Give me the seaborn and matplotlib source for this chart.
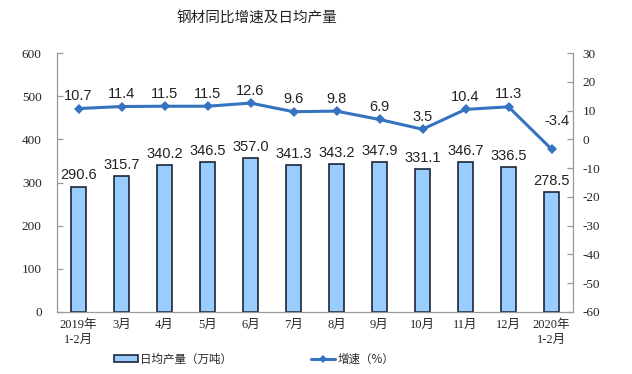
import matplotlib
matplotlib.use("Agg")
import matplotlib.pyplot as plt
import seaborn as sns
import numpy as np
import pandas as pd
from matplotlib.patches import Patch
from matplotlib.lines import Line2D

categories = ["2019年\n1-2月", "3月", "4月", "5月", "6月", "7月", "8月", "9月",
              "10月", "11月", "12月", "2020年\n1-2月"]
output = [290.6, 315.7, 340.2, 346.5, 357.0, 341.3, 343.2, 347.9, 331.1, 346.7, 336.5, 278.5]
growth = [10.7, 11.4, 11.5, 11.5, 12.6, 9.6, 9.8, 6.9, 3.5, 10.4, 11.3, -3.4]
left_ticks = [0, 100, 200, 300, 400, 500, 600]
right_ticks = [-60, -50, -40, -30, -20, -10, 0, 10, 20, 30]

sns.set_theme(style="white")
plt.rcParams['font.family'] = ['Noto Sans CJK SC', 'DejaVu Sans']
plt.rcParams['axes.unicode_minus'] = False

BAR = "#99CCFF"
EDGE = "#1c2636"
LINE = "#3572C0"
AX = "#9a9a9a"

df = pd.DataFrame({"cat": categories, "output": output, "growth": growth})

fig = plt.figure(figsize=(6.32, 3.74), dpi=100)
ax = fig.add_axes([57/632, 1-312/374, (573-57)/632, (312-53)/374])
sns.barplot(data=df, x="cat", y="output", ax=ax, color=BAR, edgecolor=EDGE,
            linewidth=1.2, width=0.37, saturation=1)
ax.set_ylim(0, 600)
ax.set_xlim(-0.5, len(categories) - 0.5)
ax.set_yticks(left_ticks)
ax.set_xlabel("")
ax.set_ylabel("")
for s in ["top", "right"]:
    ax.spines[s].set_visible(False)
for s in ["left", "bottom"]:
    ax.spines[s].set_color(AX)
    ax.spines[s].set_linewidth(0.9)
ax.tick_params(axis="y", direction="in", length=4, color=AX, width=0.9,
               labelsize=9.5, pad=11)
ax.tick_params(axis="x", length=0, labelsize=9, pad=5)
for lab in ax.get_yticklabels():
    lab.set_family(["Liberation Serif"])
for lab in ax.get_xticklabels():
    lab.set_family(["Liberation Serif", "Noto Sans CJK SC"])
    lab.set_linespacing(1.3)
ax.set_xticks(np.arange(-0.5, len(categories), 1), minor=True)
ax.tick_params(axis="x", which="minor", direction="in", length=3, color=AX, width=0.9)

for i, v in enumerate(output):
    ax.annotate(f"{v:.1f}", (i, v), xytext=(0, 3), textcoords="offset points",
                ha="center", va="bottom", fontsize=10.5, family=["Liberation Sans"],
                color="#222222")

ax2 = ax.twinx()
sns.lineplot(x=np.arange(len(categories)), y=growth, ax=ax2, color=LINE,
             linewidth=2.2, marker="D", markersize=5, markeredgewidth=0)
ax2.set_ylim(-60, 30)
ax2.set_yticks(right_ticks)
ax2.set_xlim(-0.5, len(categories) - 0.5)
for s in ["top", "left", "bottom"]:
    ax2.spines[s].set_visible(False)
ax2.spines["right"].set_color(AX)
ax2.spines["right"].set_linewidth(0.9)
ax2.tick_params(axis="y", direction="in", length=4, color=AX, width=0.9,
                labelsize=9.5, pad=7)
for lab in ax2.get_yticklabels():
    lab.set_family(["Liberation Serif"])
ax2.set_ylabel("")

for i, v in enumerate(growth):
    dy = 15 if i == len(growth) - 1 else 4
    dx = 4 if i == len(growth) - 1 else 0
    ax2.annotate(f"{v:.1f}", (i, v), xytext=(dx, dy), textcoords="offset points",
                 ha="center", va="bottom", fontsize=10.5, family=["Liberation Sans"],
                 color="#222222")

fig.text(257/632, 1-18/374, "钢材同比增速及日均产量", ha="center", va="center",
         fontsize=10.5, color="#222222")

handles = [Patch(facecolor=BAR, edgecolor=EDGE, linewidth=1.2),
           Line2D([0], [0], color=LINE, linewidth=2.2, marker="D", markersize=4,
                  markeredgewidth=0)]
fig.legend(handles, ["日均产量（万吨）", "增速（%）"], loc="center",
           bbox_to_anchor=(254/632, 1-359/374), ncol=2, frameon=False,
           fontsize=8.3, handlelength=2.1, handleheight=0.6, handletextpad=0.2,
           columnspacing=6.8)

fig.savefig("out.png", dpi=100)
